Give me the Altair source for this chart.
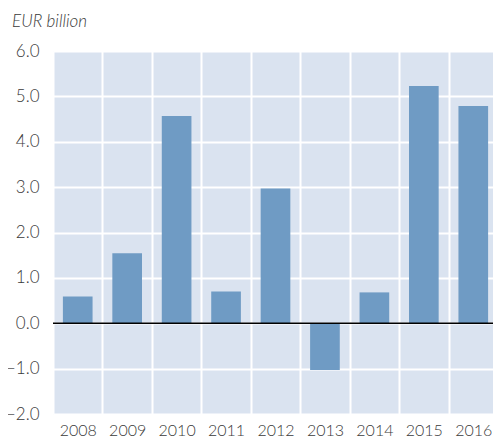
import altair as alt
import pandas as pd

years = ["2008", "2009", "2010", "2011", "2012", "2013", "2014", "2015", "2016"]
values = [0.59, 1.54, 4.57, 0.70, 2.97, -1.03, 0.68, 5.23, 4.79]
y_ticks = [-2, -1, 0, 1, 2, 3, 4, 5, 6]

df = pd.DataFrame({"year": years, "value": values})
zero = pd.DataFrame({"y": [0]})

FONT = "Lato"
TXT = "#3a3a3a"

bars = alt.Chart(df).mark_bar(color="#6f9bc4", width=alt.RelativeBandSize(0.6)).encode(
    x=alt.X("year:N", sort=years,
            scale=alt.Scale(range=[0, 445], paddingInner=0, paddingOuter=0),
            axis=alt.Axis(title=None, labelAngle=0, grid=True, tickBand="extent",
                          gridColor="white", gridWidth=2, domain=False, ticks=False,
                          labelFont=FONT, labelFontSize=16, labelColor=TXT,
                          labelFontWeight=300, labelPadding=8)),
    y=alt.Y("value:Q",
            scale=alt.Scale(domain=[-2, 6], nice=False, zero=False),
            axis=alt.Axis(title=None, values=y_ticks, grid=True,
                          labelExpr="datum.value < 0 ? '\u2013' + format(-datum.value, '.1f') : format(datum.value, '.1f')",
                          gridColor="white", gridWidth=2, domain=False, ticks=False,
                          labelFont=FONT, labelFontSize=17, labelColor=TXT,
                          labelFontWeight=300, labelPadding=14)),
)

rule = alt.Chart(zero).mark_rule(color="black", strokeWidth=1.5).encode(y="y:Q")

chart = alt.layer(bars, rule).properties(
    width=440,
    height=363,
    autosize=alt.AutoSizeParams(type="none"),
    padding={"left": 45, "top": 43, "right": 0, "bottom": 24},
    title=alt.TitleParams("EUR billion", anchor="start", frame="group", font=FONT,
                          fontSize=17, fontStyle="italic", fontWeight=300, color=TXT,
                          dx=-41, offset=11),
).configure_view(fill="#dae3f0", stroke="transparent")

chart.save("out.html", embed_options={"renderer": "svg", "actions": False})
